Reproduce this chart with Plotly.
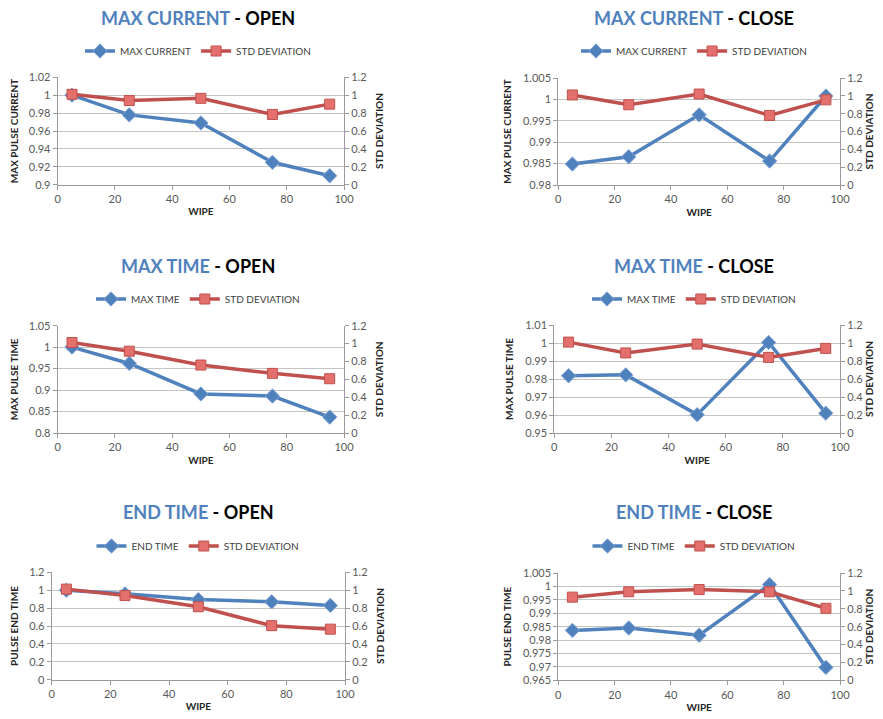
import plotly.graph_objects as go

wipe = [5, 25, 50, 75, 95]

# panel data (left axis series, std deviation on right axis)
max_current_open = [1.0, 0.978, 0.969, 0.925, 0.910]
std_current_open = [1.01, 0.94, 0.965, 0.785, 0.90]
max_current_close = [0.9849, 0.9866, 0.9964, 0.9856, 1.0008]
std_current_close = [1.01, 0.90, 1.02, 0.78, 0.955]
max_time_open = [1.0, 0.962, 0.891, 0.886, 0.837]
std_time_open = [1.012, 0.915, 0.76, 0.667, 0.607]
max_time_close = [0.9818, 0.9823, 0.9602, 1.0003, 0.961]
std_time_close = [1.01, 0.89, 0.988, 0.84, 0.94]
end_time_open = [1.0, 0.96, 0.895, 0.87, 0.83]
std_end_open = [1.012, 0.94, 0.815, 0.604, 0.565]
end_time_close = [0.9836, 0.9845, 0.9818, 1.0007, 0.9698]
std_end_close = [0.93, 0.99, 1.015, 0.99, 0.805]

x_ticks = [0, 20, 40, 60, 80, 100]
std_ticks = [0, 0.2, 0.4, 0.6, 0.8, 1.0, 1.2]
std_labels = ["0", "0.2", "0.4", "0.6", "0.8", "1", "1.2"]

# box = (left, right, top, bottom) of the plot area in page pixels
panels = [
    dict(name="MAX CURRENT", mode="OPEN", ytitle="MAX PULSE CURRENT",
         y=max_current_open, std=std_current_open,
         ticks=[0.9, 0.92, 0.94, 0.96, 0.98, 1.0, 1.02],
         labels=["0.9", "0.92", "0.94", "0.96", "0.98", "1", "1.02"],
         box=(57.7, 344, 77.3, 184.7), tx=198, ty=18, ly=51, rs=9),
    dict(name="MAX CURRENT", mode="CLOSE", ytitle="MAX PULSE CURRENT",
         y=max_current_close, std=std_current_close,
         ticks=[0.98, 0.985, 0.99, 0.995, 1.0, 1.005],
         labels=["0.98", "0.985", "0.99", "0.995", "1", "1.005"],
         box=(558.3, 840, 78, 185), tx=694, ty=18, ly=51, rs=1),
    dict(name="MAX TIME", mode="OPEN", ytitle="MAX PULSE TIME",
         y=max_time_open, std=std_time_open,
         ticks=[0.8, 0.85, 0.9, 0.95, 1.0, 1.05],
         labels=["0.8", "0.85", "0.9", "0.95", "1", "1.05"],
         box=(57.7, 344, 325.7, 433), tx=198, ty=266, ly=299, rs=9),
    dict(name="MAX TIME", mode="CLOSE", ytitle="MAX PULSE TIME",
         y=max_time_close, std=std_time_close,
         ticks=[0.95, 0.96, 0.97, 0.98, 0.99, 1.0, 1.01],
         labels=["0.95", "0.96", "0.97", "0.98", "0.99", "1", "1.01"],
         box=(554.3, 840, 325, 433), tx=694, ty=266, ly=299, rs=1),
    dict(name="END TIME", mode="OPEN", ytitle="PULSE END TIME",
         y=end_time_open, std=std_end_open,
         ticks=[0, 0.2, 0.4, 0.6, 0.8, 1.0, 1.2],
         labels=["0", "0.2", "0.4", "0.6", "0.8", "1", "1.2"],
         box=(51.7, 345, 572.3, 679.7), tx=198, ty=512, ly=546, rs=9),
    dict(name="END TIME", mode="CLOSE", ytitle="PULSE END TIME",
         y=end_time_close, std=std_end_close,
         ticks=[0.965, 0.97, 0.975, 0.98, 0.985, 0.99, 0.995, 1.0, 1.005],
         labels=["0.965", "0.97", "0.975", "0.98", "0.985", "0.99", "0.995", "1", "1.005"],
         box=(558.3, 840, 573, 680.3), tx=694, ty=512, ly=546, rs=1),
]

OFF = 8  # page body margin
W, H = 883 - OFF, 719 - OFF
BLUE = "#4F81BD"
RED = "#C0504D"
FONT = "Lato, 'Open Sans', sans-serif"


def fx(px):
    return (px - OFF) / W


def fy(py):
    return 1 - (py - OFF) / H


fig = go.Figure()
layout = {}
annotations = []

for i, p in enumerate(panels, start=1):
    xa = "x" if i == 1 else f"x{i}"
    yl = "y" if i == 1 else f"y{2 * i - 1}"
    yr = f"y{2 * i}"
    leg = "legend" if i == 1 else f"legend{i}"
    x0, x1, y0, y1 = p["box"]

    fig.add_trace(go.Scatter(
        x=wipe, y=p["y"], name=p["name"], mode="lines+markers",
        line=dict(color=BLUE, width=3.5),
        marker=dict(symbol="diamond", size=11, color=BLUE, line=dict(color="#7FA3D3", width=1)),
        xaxis=xa, yaxis=yl, legend=leg))
    fig.add_trace(go.Scatter(
        x=wipe, y=p["std"], name="STD DEVIATION", mode="lines+markers",
        line=dict(color=RED, width=3.5),
        marker=dict(symbol="square", size=10, color="#E4706D", line=dict(color=RED, width=1)),
        xaxis=xa, yaxis=yr, legend=leg))

    xkey = "xaxis" if i == 1 else f"xaxis{i}"
    ylkey = "yaxis" if i == 1 else f"yaxis{2 * i - 1}"
    yrkey = f"yaxis{2 * i}"

    tick_font = dict(size=11, color="#595959", family=FONT)
    title_font = dict(size=10, color="#262626", family=FONT)

    layout[xkey] = dict(
        domain=[fx(x0), fx(x1)], anchor=yl, range=[0, 100], tickvals=x_ticks, automargin=False,
        showgrid=False, zeroline=False, showline=True, linecolor="#9A9A9A",
        ticks="outside", ticklen=4, tickcolor="#9A9A9A", tickfont=tick_font,
        title=dict(text="<b>WIPE</b>", font=title_font, standoff=4))
    layout[ylkey] = dict(
        domain=[fy(y1), fy(y0)], anchor=xa, range=[p["ticks"][0], p["ticks"][-1]], automargin=False,
        tickvals=p["ticks"], ticktext=p["labels"],
        showgrid=True, gridcolor="#C4C4C4", gridwidth=1, zeroline=False,
        showline=True, linecolor="#9A9A9A", ticks="outside", ticklen=4, tickcolor="#9A9A9A",
        tickfont=tick_font,
        title=dict(text=f"<b>{p['ytitle']}</b>", font=title_font, standoff=9))
    layout[yrkey] = dict(
        domain=[fy(y1), fy(y0)], anchor=xa, overlaying=yl, side="right", range=[0, 1.2],
        automargin=False, tickvals=std_ticks, ticktext=std_labels,
        showgrid=False, zeroline=False, showline=True, linecolor="#9A9A9A",
        ticks="outside", ticklen=4, tickcolor="#9A9A9A", tickfont=tick_font,
        title=dict(text="<b>STD DEVIATION</b>", font=title_font, standoff=p["rs"]))

    layout[leg] = dict(
        orientation="h", x=fx(p["tx"]), y=fy(p["ly"]), xanchor="center", yanchor="middle",
        font=dict(size=10, color="#404040", family=FONT), itemwidth=30,
        bgcolor="rgba(0,0,0,0)", tracegroupgap=0)

    annotations.append(dict(
        text=f"<b><span style='color:{BLUE}'>{p['name']}</span> - {p['mode']}</b>",
        x=fx(p["tx"]), y=fy(p["ty"]), xref="paper", yref="paper",
        xanchor="center", yanchor="middle", showarrow=False, borderpad=0,
        font=dict(size=18, color="black", family=FONT)))

fig.update_layout(
    width=W, height=H, margin=dict(l=0, r=0, t=0, b=0, autoexpand=False),
    plot_bgcolor="white", paper_bgcolor="white",
    annotations=annotations, **layout)

fig.write_html("out.html")
